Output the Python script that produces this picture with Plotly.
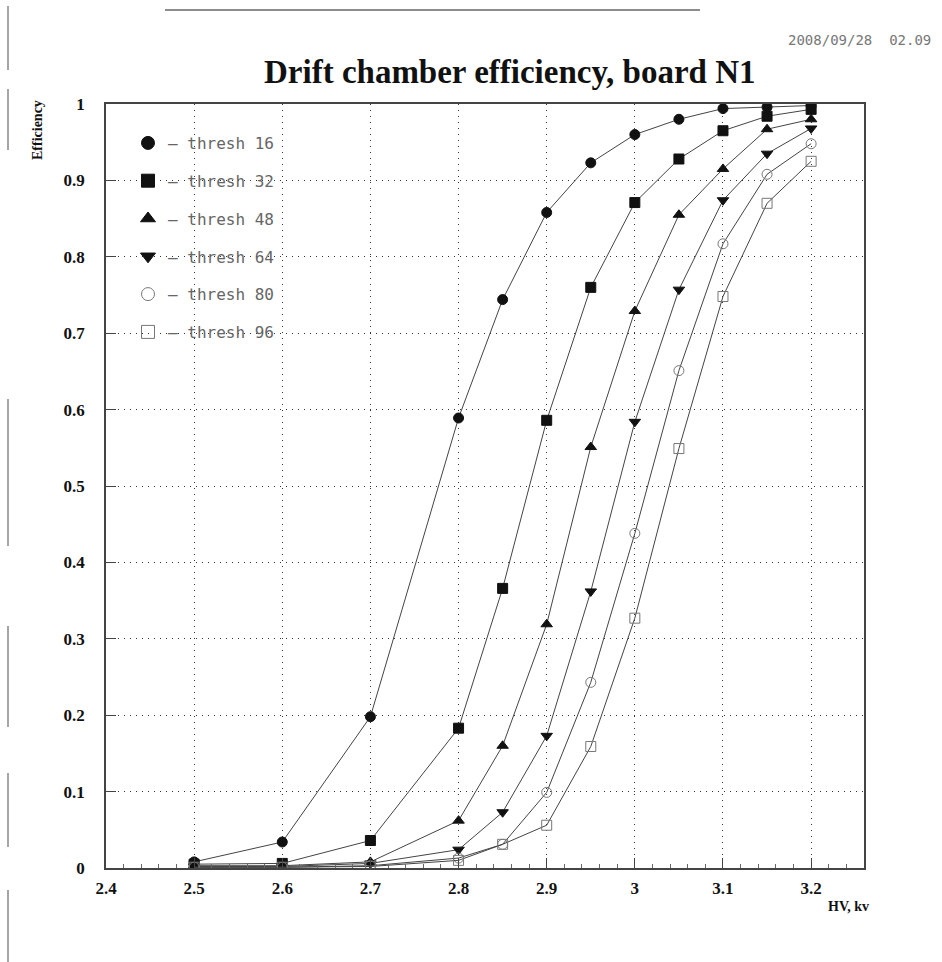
import plotly.graph_objects as go

# ---------------- data ----------------
hv = [2.5, 2.6, 2.7, 2.8, 2.85, 2.9, 2.95, 3.0, 3.05, 3.1, 3.15, 3.2]
eff_16 = [0.008, 0.034, 0.198, 0.589, 0.744, 0.858, 0.923, 0.960, 0.980, 0.994, 0.996, 0.998]
eff_32 = [0.005, 0.006, 0.036, 0.183, 0.366, 0.586, 0.760, 0.871, 0.928, 0.965, 0.984, 0.993]
eff_48 = [0.003, 0.003, 0.008, 0.062, 0.160, 0.319, 0.551, 0.729, 0.855, 0.915, 0.967, 0.980]
eff_64 = [0.002, 0.002, 0.006, 0.024, 0.073, 0.173, 0.362, 0.584, 0.757, 0.874, 0.935, 0.968]
eff_80 = [0.001, 0.001, 0.003, 0.013, 0.031, 0.099, 0.243, 0.438, 0.651, 0.817, 0.908, 0.948]
eff_96 = [0.001, 0.001, 0.002, 0.010, 0.031, 0.056, 0.159, 0.327, 0.549, 0.748, 0.870, 0.925]
thresholds = [16, 32, 48, 64, 80, 96]
legend_labels = ["– thresh 16", "– thresh 32", "– thresh 48", "– thresh 64", "– thresh 80", "– thresh 96"]

series = [eff_16, eff_32, eff_48, eff_64, eff_80, eff_96]
symbols = ["circle", "square", "triangle-up", "triangle-down", "circle-open", "square-open"]
mcolors = ["#111", "#111", "#111", "#111", "#777", "#777"]

# ---------------- layout geometry ----------------
W, H = 942, 962
ML, MR, MT, MB = 106, 78, 104, 94
PW, PH = W - ML - MR, H - MT - MB


def px(x):
    return (x - ML) / PW


def py(y):
    return (H - MB - y) / PH


serif = "Liberation Serif"
fig = go.Figure()

for vals, sym, col in zip(series, symbols, mcolors):
    fig.add_trace(go.Scatter(
        x=hv, y=vals, mode="lines+markers", showlegend=False,
        line=dict(color="#444", width=1),
        marker=dict(symbol=sym, size=10, color=col, line=dict(color=col, width=1)),
    ))

for i, (lab, sym, col) in enumerate(zip(legend_labels, symbols, mcolors)):
    fig.add_trace(go.Scatter(
        x=[None], y=[None], mode="markers", name=lab, legendgroup=f"g{i}",
        marker=dict(symbol=sym, size=13, color=col, line=dict(color=col, width=1)),
    ))

axis_common = dict(
    showgrid=True, gridcolor="#333", gridwidth=1, griddash="1px,5px",
    showline=True, linecolor="#444", linewidth=1.5, mirror=True,
    ticks="inside", ticklen=10, tickcolor="#444",
    tickfont=dict(family=serif, size=17, color="#111", weight="bold"),
    zeroline=False,
)

fig.update_xaxes(range=[2.4, 3.26], tick0=2.4, dtick=0.1, ticklabelstandoff=4,
                 minor=dict(ticks="inside", ticklen=4, dtick=0.02, tickcolor="#666"),
                 **axis_common)
fig.update_yaxes(range=[0, 1], tick0=0, dtick=0.1, ticklabelstandoff=16, **axis_common)

annotations = [
    dict(text="Drift chamber efficiency, board N1", x=px(510), y=py(72),
         font=dict(family=serif, size=33, color="#111", weight="bold")),
    dict(text="2008/09/28  02.09", x=px(786), y=py(40), xanchor="left",
         font=dict(family="DejaVu Sans Mono", size=14, color="#777")),
    dict(text="Efficiency", x=px(37), y=py(130), textangle=-90,
         font=dict(family=serif, size=14, color="#111", weight="bold")),
    dict(text="HV, kv", x=px(848), y=py(906),
         font=dict(family=serif, size=14, color="#111", weight="bold")),
]
for a in annotations:
    a.update(xref="paper", yref="paper", showarrow=False)
    a.setdefault("xanchor", "center")
    a.setdefault("yanchor", "middle")

# scan border artifacts
shapes = []
for y0, y1 in [(6, 70), (89, 150), (399, 546), (626, 727), (773, 847), (890, 962)]:
    shapes.append(dict(type="line", xref="paper", yref="paper",
                       x0=px(8), x1=px(8), y0=py(y0), y1=py(y1),
                       line=dict(color="#888", width=1.5)))
shapes.append(dict(type="line", xref="paper", yref="paper",
                   x0=px(165), x1=px(700), y0=py(10), y1=py(10),
                   line=dict(color="#666", width=1.5)))

fig.update_layout(
    width=W, height=H,
    margin=dict(l=ML, r=MR, t=MT, b=MB),
    paper_bgcolor="white", plot_bgcolor="white",
    annotations=annotations, shapes=shapes,
    legend=dict(x=px(128), y=py(126), xanchor="left", yanchor="top",
                bgcolor="rgba(0,0,0,0)", tracegroupgap=14, itemwidth=30,
                font=dict(family="DejaVu Sans Mono", size=16, color="#666")),
)

fig.write_html("out.html")
